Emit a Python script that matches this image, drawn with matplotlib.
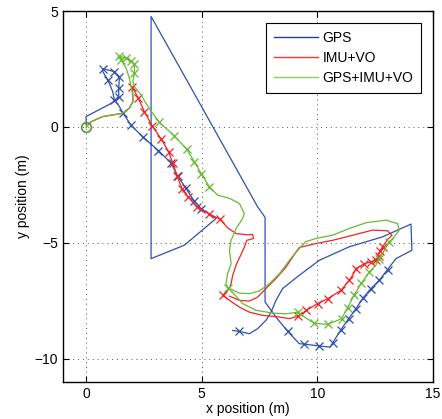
import numpy as np
import matplotlib
matplotlib.use("Agg")
import matplotlib.pyplot as plt

plt.rcParams['font.family'] = ['Liberation Sans', 'DejaVu Sans']

# GPS track (m)
gps_x = [0.0, 0.0, 1.22, 1.41, 1.41, 1.44, 1.22, 0.75, 0.72, 0.94, 1.15, 1.22, 1.44, 1.58,
         1.95, 2.45, 3.13, 3.67, 3.96, 4.32, 4.68, 4.97, 5.62, 4.25, 2.81, 2.81, 4.83, 7.42,
         7.74, 7.74, 8.21, 8.72, 9.22, 9.44, 10.09, 10.55, 10.66, 11.02, 11.35, 11.67, 11.99,
         12.32, 12.68, 13.04, 13.4, 14.09, 14.05, 12.82, 11.38, 10.09, 9.22, 8.5, 8.21, 8.0,
         7.78, 7.42, 7.06, 6.63, 6.34]
gps_y = [0.1, 0.45, 1.09, 1.31, 1.67, 2.17, 2.39, 2.51, 2.39, 2.03, 1.53, 1.17, 0.88, 0.62,
         0.07, -0.43, -1.02, -1.55, -2.12, -2.65, -3.2, -3.52, -3.95, -5.1, -5.68, 4.77, 1.17, -3.45,
         -3.9, -7.55, -8.2, -8.82, -9.35, -9.37, -9.45, -9.5, -9.32, -8.75, -8.27, -7.84, -7.36,
         -6.97, -6.61, -6.15, -5.68, -5.32, -4.19, -4.74, -5.17, -5.75, -6.4, -6.97, -7.48, -7.99,
         -8.34, -8.7, -8.92, -8.82, -8.78]
gps_marks = [3, 4, 5, 6, 7, 9, 11, 13, 14, 15, 16, 17, 18, 19, 20, 21,
             31, 33, 34, 36, 37, 38, 39, 40, 41, 42, 43, 57]

# IMU+VO track (m)
imu_x = [0.0, 0.22, 0.72, 1.15, 1.58, 1.87, 2.02, 2.02, 1.99, 2.25, 2.52, 2.86, 3.24, 3.57,
         3.75, 3.94, 4.15, 4.42, 4.8, 5.33, 5.78, 6.12, 6.49, 6.95, 7.2, 7.24, 6.95, 6.84, 6.63,
         6.49, 6.34, 6.27, 6.2, 5.91, 6.3, 6.63, 7.06, 7.64, 8.36, 8.79, 9.15, 9.53, 10.01,
         10.45, 11.02, 11.38, 11.53, 11.67, 12.04, 12.32, 12.54, 12.65, 12.7, 12.82, 13.04,
         13.23, 13.04, 12.39, 11.53, 10.66, 9.94, 9.22, 9.08, 8.65, 8.21, 7.78, 7.42, 7.06,
         6.63, 6.2]
imu_y = [0.0, 0.23, 0.45, 0.52, 0.59, 0.81, 1.09, 1.38, 1.73, 1.26, 0.66, 0.04, -0.51, -1.07,
         -1.57, -2.13, -2.67, -3.02, -3.45, -3.76, -3.97, -4.35, -4.6, -4.65, -4.64, -4.81, -4.89,
         -5.2, -5.65, -5.95, -6.4, -6.76, -6.97, -7.26, -7.55, -7.77, -7.99, -8.13, -8.2, -8.27,
         -8.17, -7.91, -7.62, -7.41, -7.05, -6.61, -6.4, -6.11, -5.9, -5.82, -5.75, -5.55, -5.35,
         -5.17, -4.85, -4.67, -4.48, -4.45, -4.67, -4.89, -5.03, -5.2, -5.39, -6.04, -6.54, -6.97,
         -7.34, -7.51, -7.48, -7.3]
imu_marks = [8, 9, 10, 11, 12, 13, 14, 15, 16, 17, 18, 19, 20, 33, 40, 41, 42, 43, 44, 45,
             47, 48, 49, 50, 51, 52, 53]

# GPS+IMU+VO track (m)
fus_x = [0.0, 0.22, 0.72, 1.15, 1.58, 1.87, 2.02, 2.02, 1.95, 1.87, 1.73, 1.51, 1.44, 1.73,
         1.95, 2.09, 2.09, 2.02, 2.09, 2.38, 2.59, 2.88, 3.17, 3.5, 3.82, 4.35, 4.68, 4.99,
         5.33, 5.69, 6.2, 6.63, 6.84, 6.77, 6.49, 6.27, 6.2, 6.27, 6.12, 6.05, 6.12, 6.63,
         7.06, 7.49, 7.93, 8.36, 8.79, 9.15, 9.5, 9.94, 10.66, 11.38, 12.11, 12.97, 13.47,
         13.54, 13.33, 13.11, 12.9, 12.68, 12.54, 12.25, 11.91, 11.6, 11.31, 11.05, 10.45,
         9.87, 9.45, 9.15, 8.65, 8.07, 7.35, 6.77, 6.3]
fus_y = [0.0, 0.23, 0.45, 0.52, 0.59, 0.81, 1.09, 1.38, 1.74, 2.1, 2.54, 2.9, 3.05, 2.97,
         2.85, 2.7, 2.32, 1.96, 1.74, 1.38, 1.02, 0.59, 0.2, -0.1, -0.39, -0.96, -1.5, -2.03,
         -2.58, -2.94, -3.08, -3.3, -3.73, -3.95, -4.38, -4.89, -5.32, -5.9, -6.33, -6.76, -6.93,
         -7.17, -7.19, -7.08, -6.76, -6.33, -5.75, -5.32, -4.95, -4.81, -4.67, -4.38, -4.13,
         -4.02, -4.17, -4.45, -4.74, -4.96, -5.32, -5.68, -5.95, -6.26, -6.73, -7.23, -7.8,
         -8.27, -8.52, -8.47, -8.2, -7.99, -8.06, -8.03, -7.91, -7.62, -7.1]
fus_marks = [11, 12, 13, 14, 15, 16, 22, 24, 25, 26, 27, 28, 40, 57, 59, 61, 62, 63, 64, 65,
             66, 67, 69]

c_gps = '#3050b0'
c_imu = '#f02424'
c_fus = '#66bb33'

fig = plt.figure(figsize=(4.42, 4.19), dpi=100)
ax = fig.add_axes([0.1425, 0.0885, 0.837, 0.885])

ax.plot(gps_x, gps_y, color=c_gps, lw=0.9, marker='x', ms=5.5, mew=0.9,
        markevery=gps_marks)
ax.plot(imu_x, imu_y, color=c_imu, lw=0.9, marker='x', ms=5.5, mew=0.9,
        markevery=imu_marks)
ax.plot(fus_x, fus_y, color=c_fus, lw=0.9, marker='x', ms=5.5, mew=0.9,
        markevery=fus_marks)
ax.plot(fus_x[0], fus_y[0], 'o', mfc='none', mec='#559933', ms=7, mew=1.2)

h1, = ax.plot([], [], color='#1f3c9e', lw=1, label='GPS')
h2, = ax.plot([], [], color='#ff3030', lw=1, label='IMU+VO')
h3, = ax.plot([], [], color='#88cc66', lw=1, label='GPS+IMU+VO')

ax.set_xlim(-1, 15)
ax.set_ylim(-11, 5)
ax.set_xticks([0, 5, 10, 15])
ax.set_yticks([-10, -5, 0, 5])
ax.tick_params(direction='in', top=True, right=True, labelsize=10, length=4)
ax.grid(True, linestyle=(0, (1, 4)), color='#555555', lw=0.7)
for s in ax.spines.values():
    s.set_linewidth(1.0)

ax.set_xlabel('x position (m)', fontsize=10, labelpad=1)
ax.set_ylabel('y position (m)', fontsize=10, labelpad=3)

leg = ax.legend(handles=[h1, h2, h3], loc='upper right', fontsize=10,
                fancybox=False, framealpha=1, edgecolor='black',
                handlelength=3.2, borderaxespad=0.85, labelspacing=0.45,
                handletextpad=0.3, borderpad=0.55)
leg.get_frame().set_linewidth(0.8)

fig.savefig('out.png', dpi=100)
